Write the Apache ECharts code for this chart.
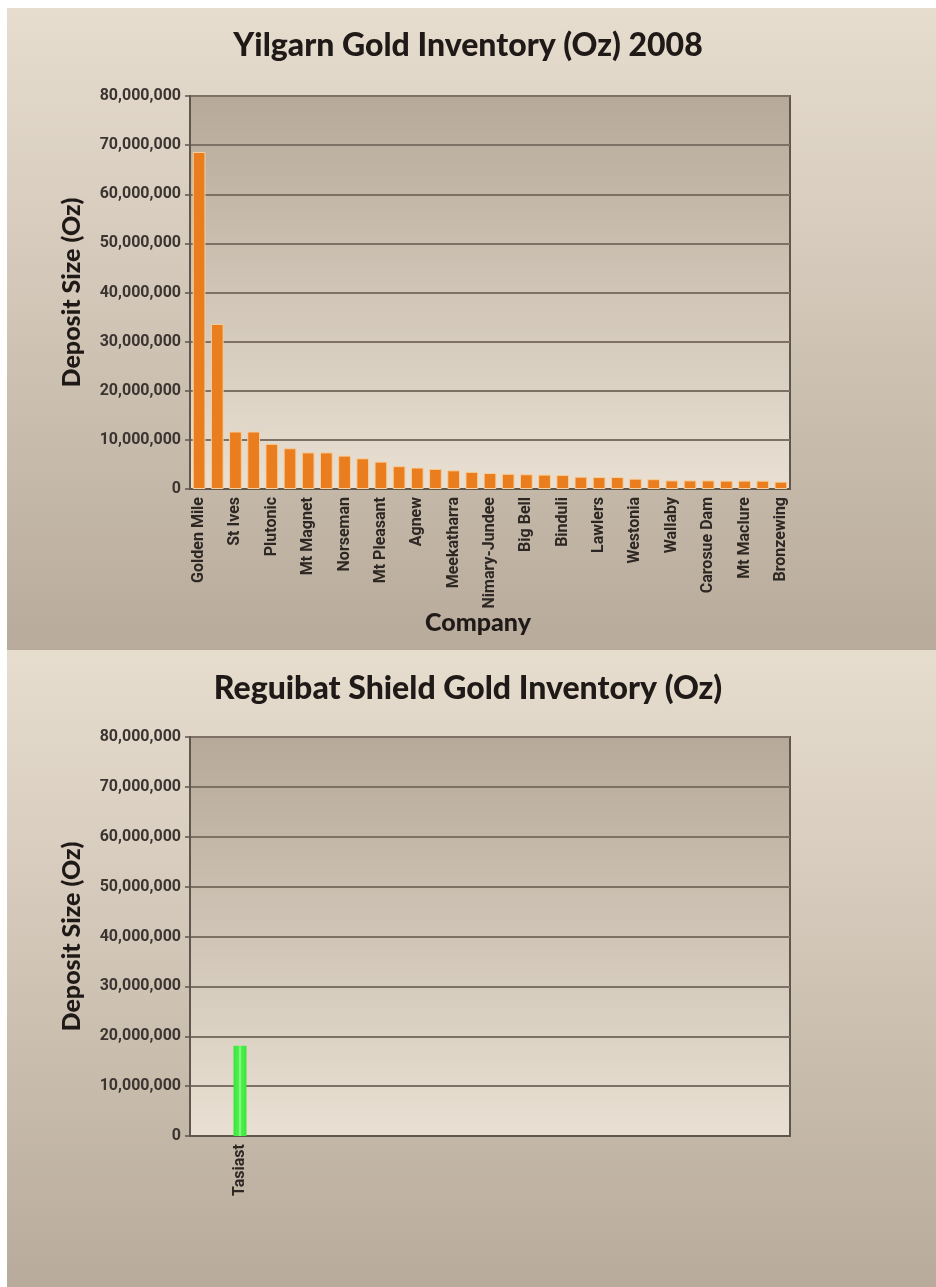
<!DOCTYPE html>
<html>
<head>
<meta charset="utf-8">
<script src="https://cdn.jsdelivr.net/npm/echarts@6/dist/echarts.min.js"></script>
<style>
html,body{margin:0;padding:0;background:#ffffff;}
#chart{width:936px;height:1287px;}
</style>
</head>
<body>
<div id="chart"></div>
<script>
// ---- data ----
const yilgarnTitle = 'Yilgarn Gold Inventory (Oz) 2008';
const reguibatTitle = 'Reguibat Shield Gold Inventory (Oz)';
const yilgarnDeposits = ['Golden Mile','Boddington','St Ives','Sunrise Dam','Plutonic','Kanowna Belle','Mt Magnet','Granny Smith','Norseman','Paddington','Mt Pleasant','Kundana','Agnew','Gwalia','Meekatharra','Wiluna','Nimary-Jundee','Darlot','Big Bell','Southern Cross','Binduli','Mt Morgans','Lawlers','Marvel Loch','Westonia','Thunderbox','Wallaby','Jupiter','Carosue Dam','Tarmoola','Mt Maclure','Youanmi','Bronzewing'];
const yilgarnOz = [68600000,33600000,11700000,11700000,9200000,8300000,7450000,7450000,6800000,6250000,5570000,4650000,4370000,4100000,3800000,3500000,3250000,3100000,3000000,2930000,2870000,2500000,2430000,2430000,2100000,2000000,1750000,1750000,1750000,1700000,1700000,1700000,1500000];
const reguibatDeposits = ['Tasiast','','','','',''];
const reguibatOz = [18100000,null,null,null,null,null];
const yMin = 0, yMax = 80000000, yStep = 10000000;
const yAxisName = 'Deposit Size (Oz)';
const xAxisName = 'Company';

// ---- styles ----
const G = echarts.graphic;
const narrow = 'Roboto,"Noto Sans",sans-serif';
const heavy = 'Lato,"DejaVu Sans",sans-serif';
const panelGrad = () => new G.LinearGradient(0,0,0,1,[{offset:0,color:'#e7ddcf'},{offset:1,color:'#b8ab9b'}]);
const plotGrad = () => new G.LinearGradient(0,0,0,1,[{offset:0,color:'#b6a999'},{offset:1,color:'#e9e0d3'}]);
const fmt = v => Number(v).toLocaleString('en-US');

function yAxis(gi){
  return {
    type:'value', gridIndex:gi, min:yMin, max:yMax, interval:yStep,
    name:yAxisName, nameLocation:'middle', nameGap:106, nameRotate:90,
    nameTextStyle:{fontFamily:heavy,fontWeight:900,fontSize:25,color:'#1f1a17'},
    axisLine:{show:true,lineStyle:{color:'#5f564d',width:2}},
    axisTick:{show:true,length:5,lineStyle:{color:'#5f564d',width:1.5}},
    axisLabel:{formatter:fmt,fontFamily:narrow,fontWeight:'bold',fontSize:16,color:'#3b3430',margin:9},
    splitLine:{show:true,lineStyle:{color:'#7c7164',width:2}}
  };
}

const option = {
  animation:false,
  backgroundColor:'#ffffff',
  graphic:[
    {type:'rect',shape:{x:7,y:8,width:929,height:642},style:{fill:panelGrad()},z:-10,silent:true},
    {type:'rect',shape:{x:7,y:650,width:929,height:637},style:{fill:panelGrad()},z:-10,silent:true}
  ],
  title:[
    {text:yilgarnTitle,left:'center',top:25,textStyle:{fontFamily:heavy,fontWeight:900,fontSize:32,color:'#1f1a17'}},
    {text:reguibatTitle,left:'center',top:668,textStyle:{fontFamily:heavy,fontWeight:900,fontSize:32,color:'#1f1a17'}}
  ],
  grid:[
    {left:190,top:96,width:600,height:393,show:true,backgroundColor:plotGrad(),borderColor:'#5f564d',borderWidth:2},
    {left:190,top:737,width:600,height:399,show:true,backgroundColor:plotGrad(),borderColor:'#5f564d',borderWidth:2}
  ],
  xAxis:[
    {type:'category',gridIndex:0,data:yilgarnDeposits,
     name:xAxisName,nameLocation:'middle',nameGap:121,nameMoveOverlap:false,
     nameTextStyle:{fontFamily:heavy,fontWeight:900,fontSize:25,color:'#1f1a17',padding:[0,24,0,0]},
     axisLine:{lineStyle:{color:'#5f564d',width:2}},axisTick:{show:false},
     axisLabel:{interval:1,rotate:90,fontFamily:narrow,fontWeight:'bold',fontSize:16,color:'#2e2824',margin:8}},
    {type:'category',gridIndex:1,data:reguibatDeposits,
     axisLine:{lineStyle:{color:'#5f564d',width:2}},axisTick:{show:false},
     axisLabel:{interval:0,rotate:90,fontFamily:narrow,fontWeight:'bold',fontSize:16,color:'#2e2824',margin:8}}
  ],
  yAxis:[yAxis(0),yAxis(1)],
  series:[
    {type:'bar',xAxisIndex:0,yAxisIndex:0,data:yilgarnOz,barCategoryGap:'30%',
     itemStyle:{color:'#ea7d1d',borderColor:'#f6cf9c',borderWidth:1}},
    {type:'bar',xAxisIndex:1,yAxisIndex:1,data:reguibatOz,barWidth:13,
     itemStyle:{color:new G.LinearGradient(0,0,1,0,[
       {offset:0,color:'#3ee23e'},{offset:0.4,color:'#4cf24c'},{offset:0.5,color:'#a8f7a0'},{offset:0.6,color:'#4cf24c'},{offset:1,color:'#3ee23e'}])}}
  ]
};
const chart = echarts.init(document.getElementById('chart'));
chart.setOption(option);
</script>
</body>
</html>
